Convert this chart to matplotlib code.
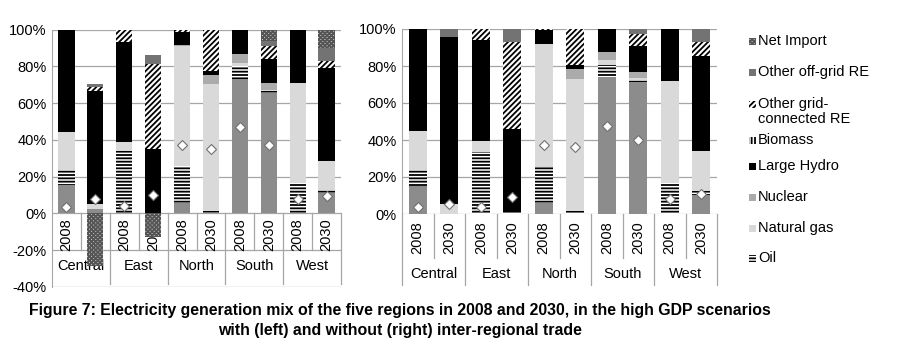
import numpy as np
import matplotlib
matplotlib.use("Agg")
import matplotlib.pyplot as plt
import matplotlib.patches as mpatches

plt.rcParams['font.family'] = ['Liberation Sans', 'DejaVu Sans']
plt.rcParams['hatch.linewidth'] = 1.3

regions = ['Central', 'East', 'North', 'South', 'West']
years = ['2008', '2030']

# with inter-regional trade (left), order: C08 C30 E08 E30 N08 N30 S08 S30 W08 W30
coal_l = [15.5, 2.5, 0, 0, 5.4, 0, 73.2, 65.5, 0, 11.2]
oil_l = [8.3, 0, 33.8, 0, 20.2, 1.2, 7.2, 0.8, 16.6, 1.4]
gas_l = [20.5, 2.5, 5.2, 0, 65.6, 68.9, 1.2, 0.9, 54.4, 16.0]
nuclear_l = [0, 0, 0, 0, 0.5, 5.2, 5.1, 3.5, 0, 0]
hydro_l = [55.7, 61.3, 54.4, 35.0, 7.1, 2.4, 13.3, 13.3, 29.0, 50.4]
biomass_l = [0, 0, 0, 0, 0, 0, 0, 0, 0, 0]
gridre_l = [0, 2.2, 6.6, 46.3, 1.2, 22.3, 0, 7.0, 0, 4.1]
offgrid_l = [0, 2.0, 0, 4.7, 0, 0, 0, 3.0, 0, 6.7]
netimp_l = [0, -28.5, 0, -13.0, 0, 0, 0, 6.0, 0, 10.2]
share_l = [3.7, 8.0, 4.0, 10.0, 37.0, 35.0, 47.0, 37.0, 8.0, 9.5]

# without inter-regional trade (right)
coal_r = [15.2, 0, 0, 0, 6.1, 0, 74.0, 71.6, 0, 10.5]
oil_r = [8.6, 0, 33.4, 1.5, 19.3, 1.5, 6.7, 0.9, 17.0, 2.0]
gas_r = [20.8, 5.5, 6.1, 0, 66.6, 71.4, 2.3, 0.8, 55.0, 21.6]
nuclear_r = [0, 0, 0, 0, 0, 5.4, 4.4, 3.2, 0, 0]
hydro_r = [55.4, 90.0, 54.7, 44.5, 7.5, 2.0, 12.6, 14.5, 28.0, 51.1]
biomass_r = [0, 0, 0, 0, 0, 0, 0, 0, 0, 0]
gridre_r = [0, 0, 5.8, 47.1, 0.5, 19.7, 0, 6.5, 0, 7.6]
offgrid_r = [0, 4.5, 0, 6.9, 0, 0, 0, 2.5, 0, 7.2]
netimp_r = [0, 0, 0, 0, 0, 0, 0, 0, 0, 0]
share_r = [4.0, 5.5, 4.0, 9.0, 37.5, 36.0, 47.5, 40.0, 8.0, 11.0]

styles = {
    'Coal': dict(facecolor='#8c8c8c'),
    'Oil': dict(facecolor='white', hatch='-----', edgecolor='black'),
    'Natural gas': dict(facecolor='#d9d9d9'),
    'Nuclear': dict(facecolor='#ababab'),
    'Large Hydro': dict(facecolor='black'),
    'Biomass': dict(facecolor='white', hatch='|||||', edgecolor='black'),
    'Other grid-connected RE': dict(facecolor='white', hatch='//////', edgecolor='black'),
    'Other off-grid RE': dict(facecolor='#737373'),
    'Net Import': dict(facecolor='#d0d0d0', hatch='xxxxxxxx', edgecolor='#555555'),
}
GRID = '#a6a6a6'


def stack_bars(ax, series, share):
    x = np.arange(10)
    pos = np.zeros(10)
    neg = np.zeros(10)
    for name, vals in series:
        vals = np.array(vals, dtype=float)
        bottom = np.where(vals >= 0, pos, neg)
        ax.bar(x, vals, 0.56, bottom=bottom, linewidth=0, zorder=2, **styles[name])
        pos = pos + np.clip(vals, 0, None)
        neg = neg + np.clip(vals, None, 0)
    ax.plot(x, share, 'D', ms=5, mfc='white', mec='#707070', mew=0.8, ls='none', zorder=4)


def setup_axis(ax, ymin):
    ax.set_xlim(-0.5, 9.5)
    ax.set_ylim(ymin, 100)
    ax.set_yticks(np.arange(ymin, 101, 20))
    ax.set_yticklabels([f'{v}%' for v in range(ymin, 101, 20)], fontsize=10.5)
    ax.set_xticks([])
    ax.yaxis.grid(True, color=GRID, lw=0.9)
    ax.set_axisbelow(True)
    for s in ['top', 'right', 'bottom']:
        ax.spines[s].set_visible(False)
    ax.spines['left'].set_color(GRID)
    ax.tick_params(axis='y', length=0, pad=4)


def categories(ax, y_year, y_sep1, y_reg, y_sep2, extend_spine=False):
    for i in range(10):
        ax.text(i, y_year, years[i % 2], rotation=90, ha='center', va='center',
                fontsize=10.5, clip_on=False, zorder=1)
    for xs in [0.5, 2.5, 4.5, 6.5, 8.5]:
        ax.plot([xs, xs], [0, y_sep1], color=GRID, lw=0.9, clip_on=False, zorder=1)
    for xs in [1.5, 3.5, 5.5, 7.5, 9.5]:
        ax.plot([xs, xs], [0, y_sep2], color=GRID, lw=0.9, clip_on=False, zorder=1)
    if extend_spine:
        ax.plot([-0.5, -0.5], [0, y_sep2], color=GRID, lw=0.9, clip_on=False, zorder=1)
    for j, r in enumerate(regions):
        ax.text(2 * j + 0.5, y_reg, r, ha='center', va='center', fontsize=10.5,
                clip_on=False, zorder=1)


fig = plt.figure(figsize=(9.02, 3.46), dpi=100)
W, H = 902, 346

axl = fig.add_axes([52 / W, 1 - 287 / H, (341 - 52) / W, (287 - 29.5) / H])
axr = fig.add_axes([402 / W, 1 - 214 / H, (717 - 402) / W, (214 - 29) / H])

left_series = [('Coal', coal_l), ('Oil', oil_l), ('Natural gas', gas_l),
               ('Nuclear', nuclear_l), ('Large Hydro', hydro_l),
               ('Biomass', biomass_l), ('Other grid-connected RE', gridre_l),
               ('Other off-grid RE', offgrid_l), ('Net Import', netimp_l)]
right_series = [('Coal', coal_r), ('Oil', oil_r), ('Natural gas', gas_r),
                ('Nuclear', nuclear_r), ('Large Hydro', hydro_r),
                ('Biomass', biomass_r), ('Other grid-connected RE', gridre_r),
                ('Other off-grid RE', offgrid_r), ('Net Import', netimp_r)]

setup_axis(axl, -40)
stack_bars(axl, left_series, share_l)
categories(axl, -11.4, -20, -28.7, -38.5)

setup_axis(axr, 0)
stack_bars(axr, right_series, share_r)
categories(axr, -13.0, -23.8, -32.5, -38.4, extend_spine=True)

# legend drawn by hand
legend_items = [('Net Import', 'Net Import', 41),
                ('Other off-grid RE', 'Other off-grid RE', 72),
                ('Other grid-connected RE', 'Other grid-\nconnected RE', 104),
                ('Biomass', 'Biomass', 140),
                ('Large Hydro', 'Large Hydro', 166),
                ('Nuclear', 'Nuclear', 197),
                ('Natural gas', 'Natural gas', 228),
                ('Oil', 'Oil', 258)]
for key, label, yc in legend_items:
    fig.add_artist(mpatches.Rectangle((749 / W, 1 - (yc + 3.5) / H), 7 / W, 7 / H,
                                      transform=fig.transFigure, linewidth=0,
                                      **styles[key]))
    fig.text(758 / W, 1 - (yc - 7) / H, label, ha='left', va='top',
             fontsize=10.5, linespacing=1.05)

fig.text(400 / W, 1 - 311 / H,
         'Figure 7: Electricity generation mix of the five regions in 2008 and 2030, '
         'in the high GDP scenarios', ha='center', va='center', fontsize=11.4,
         fontweight='bold')
fig.text(400 / W, 1 - 330 / H,
         'with (left) and without (right) inter-regional trade',
         ha='center', va='center', fontsize=11.4, fontweight='bold')

fig.savefig('out.png', dpi=100)
